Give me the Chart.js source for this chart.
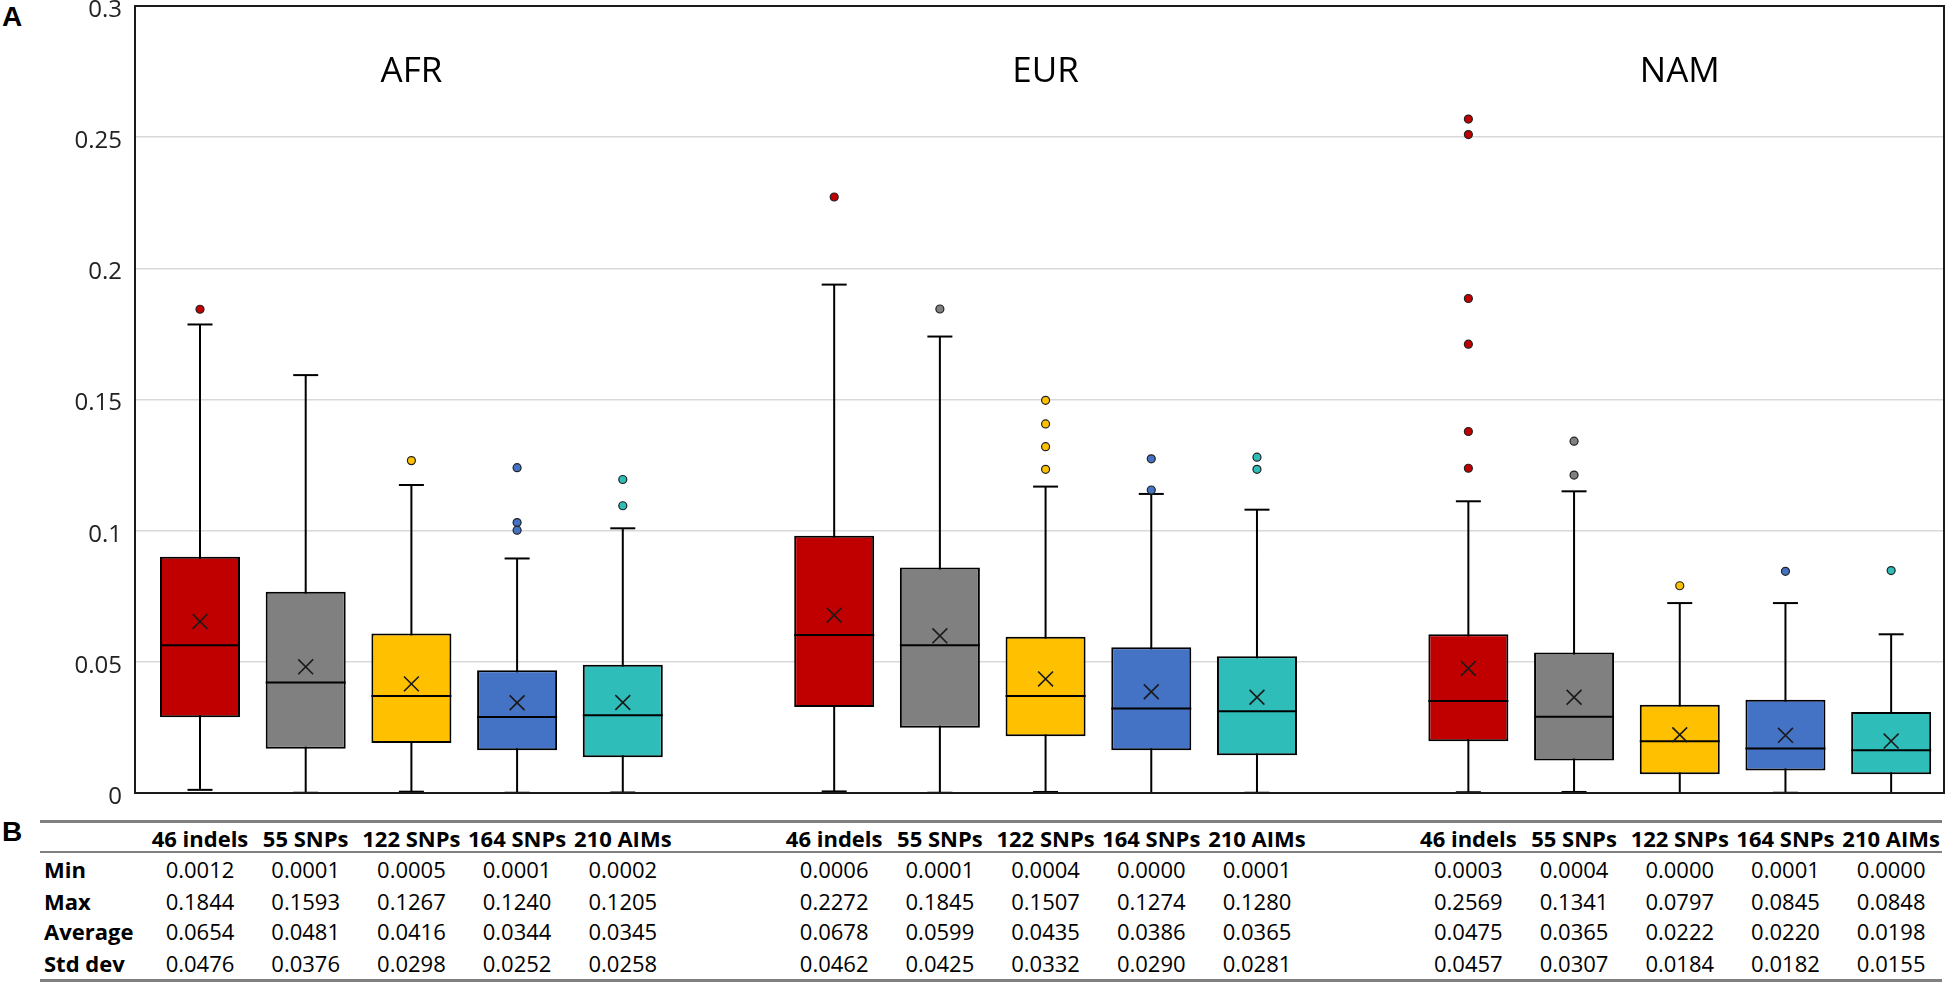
<!DOCTYPE html>
<html lang="en">
<head>
  <meta charset="UTF-8">
  <title>AFR / EUR / NAM box plots</title>
  <style>
    body {
      margin: 0;
      background: #fff;
      font-family: 'Open Sans', sans-serif;
    }

    .page {
      position: relative;
      width: 1950px;
      height: 986px;
      overflow: hidden;
    }

    .plot-wrap {
      position: absolute;
      left: 0;
      top: 0;
      width: 1950px;
      height: 810px;
    }

    .panel-tag {
      position: absolute;
      left: 2px;
      font-family: 'Liberation Sans', Arial, sans-serif;
      font-weight: bold;
      font-size: 28px;
      line-height: 32px;
      color: #000;
    }

    .rule {
      position: absolute;
      left: 40px;
      width: 1902px;
      background: #808080;
    }

    .cell {
      position: absolute;
      font-size: 22px;
      line-height: 30px;
      color: #000;
      white-space: nowrap;
      transform: translateX(-50%);
    }

    .cell.head, .row-label {
      font-weight: bold;
    }

    .row-label {
      position: absolute;
      left: 44px;
      font-size: 22px;
      line-height: 30px;
      color: #000;
    }
  </style>
</head>
<body>
  <div class="page" id="page">
    <div class="panel-tag" style="top:1px">A</div>
    <div class="panel-tag" style="top:816px">B</div>
    <div class="plot-wrap">
      <canvas id="box-chart"></canvas>
    </div>
    <div class="rule" style="top:820px;height:3px"></div>
    <div class="rule" style="top:851px;height:2px"></div>
    <div class="rule" style="top:979px;height:3px"></div>
  </div>

  <script src="https://cdn.jsdelivr.net/npm/chart.js"></script>
  <script>
    // populations and marker sets
    const groups = ['AFR', 'EUR', 'NAM'];
    const markerSets = ['46 indels', '55 SNPs', '122 SNPs', '164 SNPs', '210 AIMs'];
    const setColors = ['#C00000', '#808080', '#FFC000', '#4472C4', '#2EBDB8'];

    // box statistics, one row per population
    const q1Vals = [
      [0.0289, 0.0169, 0.0191, 0.0163, 0.0136],
      [0.0328, 0.0249, 0.0216, 0.0163, 0.0144],
      [0.0197, 0.0124, 0.0071, 0.0086, 0.0071]
    ];
    const medianVals = [
      [0.0563, 0.0421, 0.0370, 0.0290, 0.0296],
      [0.0602, 0.0563, 0.0370, 0.0322, 0.0312],
      [0.0351, 0.0291, 0.0197, 0.0170, 0.0163]
    ];
    const q3Vals = [
      [0.0901, 0.0767, 0.0608, 0.0468, 0.0489],
      [0.0981, 0.0860, 0.0596, 0.0556, 0.0521],
      [0.0605, 0.0536, 0.0336, 0.0355, 0.0309]
    ];
    const whiskerTop = [
      [0.1786, 0.1593, 0.1174, 0.0894, 0.1009],
      [0.1938, 0.1740, 0.1168, 0.1140, 0.1080],
      [0.1112, 0.1150, 0.0724, 0.0724, 0.0605]
    ];
    const outlierVals = [
      [[0.1844], [], [0.1267], [0.1240, 0.1031, 0.1002], [0.1195, 0.1095]],
      [[0.2272], [0.1845], [0.1497, 0.1407, 0.1320, 0.1234], [0.1274, 0.1155], [0.1280, 0.1234]],
      [[0.2569, 0.2510, 0.1885, 0.1711, 0.1378, 0.1238], [0.1341, 0.1212], [0.0790], [0.0845], [0.0848]]
    ];

    // table B
    const tableMin = [
      [0.0012, 0.0001, 0.0005, 0.0001, 0.0002],
      [0.0006, 0.0001, 0.0004, 0.0000, 0.0001],
      [0.0003, 0.0004, 0.0000, 0.0001, 0.0000]
    ];
    const tableMax = [
      [0.1844, 0.1593, 0.1267, 0.1240, 0.1205],
      [0.2272, 0.1845, 0.1507, 0.1274, 0.1280],
      [0.2569, 0.1341, 0.0797, 0.0845, 0.0848]
    ];
    const tableAvg = [
      [0.0654, 0.0481, 0.0416, 0.0344, 0.0345],
      [0.0678, 0.0599, 0.0435, 0.0386, 0.0365],
      [0.0475, 0.0365, 0.0222, 0.0220, 0.0198]
    ];
    const tableSd = [
      [0.0476, 0.0376, 0.0298, 0.0252, 0.0258],
      [0.0462, 0.0425, 0.0332, 0.0290, 0.0281],
      [0.0457, 0.0307, 0.0184, 0.0182, 0.0155]
    ];
    const yTicks = [0, 0.05, 0.1, 0.15, 0.2, 0.25, 0.3];

    // slot on the x axis: 5 boxes then one empty slot per population
    const slot = (g, i) => g * 6 + i;

    const boxes = [], boxColors = [], medians = [], means = [], caps = [], whiskers = [];
    const outliers = [], outlierColors = [];
    groups.forEach((g, gi) => {
      markerSets.forEach((s, i) => {
        const x = slot(gi, i);
        boxes.push({ x, y: [q1Vals[gi][i], q3Vals[gi][i]] });
        boxColors.push(setColors[i]);
        medians.push({ x, y: medianVals[gi][i] });
        means.push({ x, y: tableAvg[gi][i] });
        caps.push({ x, y: tableMin[gi][i] }, { x, y: whiskerTop[gi][i] });
        whiskers.push({ x, y: tableMin[gi][i] }, { x, y: whiskerTop[gi][i] }, { x, y: null });
        outlierVals[gi][i].forEach(v => {
          outliers.push({ x, y: v });
          outlierColors.push(setColors[i]);
        });
      });
    });

    // frame round the plot and the population titles
    const framePlugin = {
      id: 'frame',
      afterDatasetsDraw(chart) {
        const { ctx, chartArea: a, scales } = chart;
        ctx.save();
        ctx.strokeStyle = '#1a1a1a';
        ctx.lineWidth = 2;
        ctx.strokeRect(a.left, a.top, a.right - a.left, a.bottom - a.top);
        ctx.fillStyle = '#000';
        ctx.font = '35px "Open Sans"';
        ctx.textAlign = 'center';
        ctx.textBaseline = 'middle';
        groups.forEach((g, gi) => {
          ctx.fillText(g, scales.x.getPixelForValue(slot(gi, 2)), scales.y.getPixelForValue(0.275));
        });
        ctx.restore();
      }
    };

    const chart = new Chart(document.getElementById('box-chart'), {
      type: 'bar',
      data: {
        datasets: [
          {
            type: 'line',
            data: whiskers,
            borderColor: '#000',
            borderWidth: 2,
            pointRadius: 0,
            spanGaps: false,
            clip: false,
            order: 6
          },
          {
            type: 'bar',
            data: boxes,
            backgroundColor: boxColors,
            borderColor: '#000',
            borderWidth: 2,
            borderSkipped: false,
            barPercentage: 0.757,
            categoryPercentage: 1,
            order: 5
          },
          {
            type: 'scatter',
            data: medians,
            pointStyle: 'line',
            pointRadius: 40,
            borderColor: '#000',
            borderWidth: 2,
            clip: false,
            order: 4
          },
          {
            type: 'scatter',
            data: caps,
            pointStyle: 'line',
            pointRadius: 12.5,
            borderColor: '#000',
            borderWidth: 2,
            clip: false,
            order: 4
          },
          {
            type: 'scatter',
            data: means,
            pointStyle: 'crossRot',
            pointRadius: 10.5,
            borderColor: '#1a1a1a',
            borderWidth: 1.6,
            clip: false,
            order: 3
          },
          {
            type: 'scatter',
            data: outliers,
            pointStyle: 'circle',
            pointRadius: 4,
            backgroundColor: outlierColors,
            borderColor: '#222',
            borderWidth: 1.2,
            clip: false,
            order: 2
          }
        ]
      },
      options: {
        responsive: true,
        maintainAspectRatio: false,
        animation: false,
        events: [],
        layout: { autoPadding: false, padding: { left: 0, right: 6, top: 6, bottom: 17 } },
        plugins: {
          legend: { display: false },
          tooltip: { enabled: false }
        },
        scales: {
          x: {
            type: 'linear',
            display: false,
            min: -0.615,
            max: 16.5,
            offset: false,
            ticks: { stepSize: 1, includeBounds: false }
          },
          y: {
            min: 0,
            max: 0.3,
            afterFit(scale) {
              scale.width = 135;
              scale.paddingTop = 0;
              scale.paddingBottom = 0;
            },
            afterBuildTicks(scale) { scale.ticks = yTicks.map(v => ({ value: v })); },
            border: { display: false },
            grid: { color: '#D9D9D9', lineWidth: 1.5, drawTicks: false },
            ticks: {
              padding: 13,
              labelOffset: 4,
              color: '#222',
              font: { family: 'Open Sans', size: 24 },
              callback: v => v === 0 ? '0' : String(+v.toFixed(2))
            }
          }
        }
      },
      plugins: [framePlugin]
    });

    // table B, columns lined up with the boxes
    const page = document.getElementById('page');
    const rows = [
      { label: 'Min', vals: tableMin, top: 854 },
      { label: 'Max', vals: tableMax, top: 886 },
      { label: 'Average', vals: tableAvg, top: 916 },
      { label: 'Std dev', vals: tableSd, top: 948 }
    ];
    const addDiv = (cls, text, left, top) => {
      const d = document.createElement('div');
      d.className = cls;
      d.textContent = text;
      if (left !== null) d.style.left = left + 'px';
      d.style.top = top + 'px';
      page.appendChild(d);
    };
    groups.forEach((g, gi) => {
      markerSets.forEach((s, i) => {
        const cx = chart.scales.x.getPixelForValue(slot(gi, i));
        addDiv('cell head', s, cx, 823);
        rows.forEach(r => addDiv('cell', r.vals[gi][i].toFixed(4), cx, r.top));
      });
    });
    rows.forEach(r => addDiv('row-label', r.label, null, r.top));
  </script>
</body>
</html>
